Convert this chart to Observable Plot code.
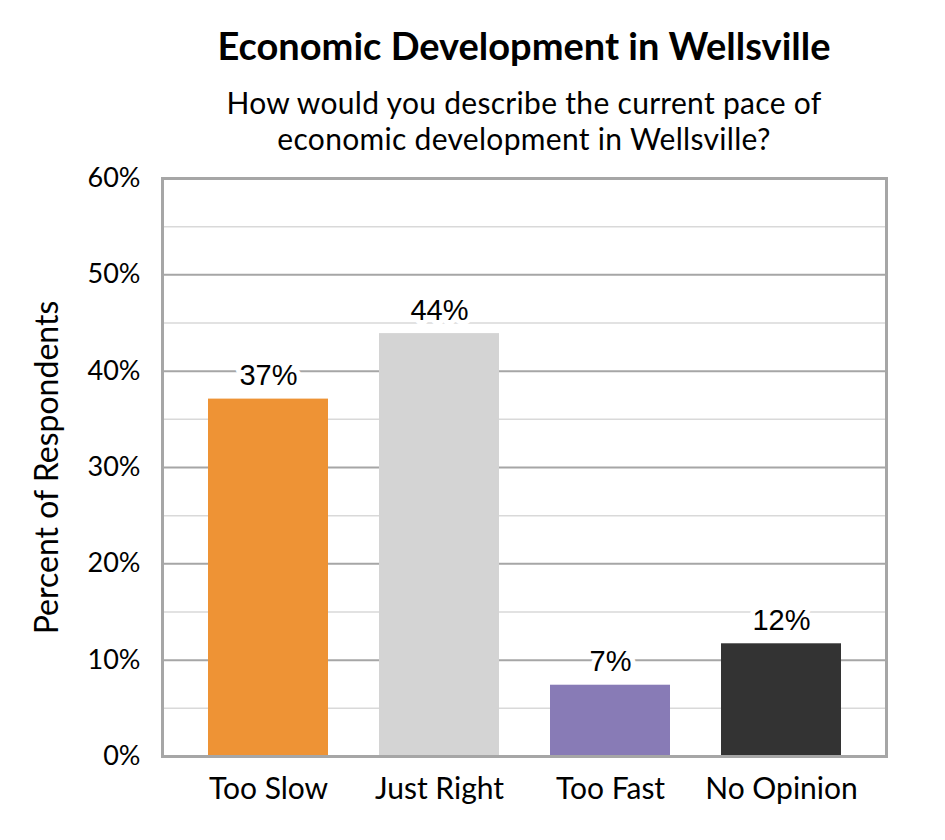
<!DOCTYPE html>
<html>
<head>
<meta charset="utf-8">
<script src="https://cdn.jsdelivr.net/npm/d3@7"></script>
<script src="https://cdn.jsdelivr.net/npm/@observablehq/plot@0.6"></script>
<style>
  body { margin: 0; background: #fff; }
  #wrap { position: relative; width: 945px; height: 840px; overflow: hidden; }
  .title { position: absolute; left: 0; width: 1048px; text-align: center; font-family: Lato, sans-serif; color: #000; white-space: nowrap; }
  #t1 { top: 25px; font-size: 38px; line-height: 40px; font-weight: bold; }
  .sub { font-size: 30px; line-height: 30px; letter-spacing: 0.3px; }
  #t2 { top: 87px; }
  #t3 { top: 123px; }
  #chart { position: absolute; left: 0; top: 160px; }
</style>
</head>
<body>
<div id="wrap">
  <div class="title" id="t1">Economic Development in Wellsville</div>
  <div class="title sub" id="t2">How would you describe the current pace of</div>
  <div class="title sub" id="t3">economic development in Wellsville?</div>
  <div id="chart"></div>
</div>
<script>
const categories = ["Too Slow", "Just Right", "Too Fast", "No Opinion"];
const values = [37.1, 43.9, 7.4, 11.7];
const labels = ["37%", "44%", "7%", "12%"];
const colors = ["#ee9335", "#d4d4d4", "#887bb6", "#333333"];
const majorTicks = [0, 10, 20, 30, 40, 50, 60];
const minorTicks = [5, 15, 25, 35, 45, 55];

const data = categories.map((c, i) => ({cat: c, value: values[i], label: labels[i], color: colors[i]}));

const chart = Plot.plot({
  width: 945,
  height: 680,
  marginLeft: 162,
  marginRight: 59,
  marginTop: 18,
  marginBottom: 84,
  style: {fontFamily: "Lato, sans-serif", fontSize: "27px", color: "#000", background: "#fff"},
  x: {domain: categories, paddingInner: 0.3, paddingOuter: 0.255},
  y: {domain: [0, 60]},
  marks: [
    Plot.ruleY(minorTicks, {stroke: "#d9d9d9", strokeWidth: 1.5}),
    Plot.ruleY(majorTicks.slice(1, -1), {stroke: "#a6a6a6", strokeWidth: 2}),
    Plot.barY(data, {x: "cat", y: "value", fill: "color"}),
    Plot.text(data, {x: "cat", y: "value", text: "label", lineAnchor: "bottom", dy: -14,
      fontFamily: "Liberation Sans, Arial, sans-serif", fontSize: 29, fill: "#000",
      stroke: "white", strokeWidth: 10}),
    Plot.frame({stroke: "#a6a6a6", strokeWidth: 3}),
    Plot.axisY({ticks: majorTicks, tickFormat: d => d + "%", tickSize: 0, tickPadding: 22, label: null, fontSize: 27}),
    Plot.axisX({tickSize: 0, tickPadding: 21, label: null, fontSize: 30}),
    Plot.text(["Percent of Respondents"], {frameAnchor: "left", dx: -115, rotate: -90,
      textAnchor: "middle", lineAnchor: "middle", fontSize: 32, fill: "#000"})
  ]
});
document.getElementById("chart").appendChild(chart);
</script>
</body>
</html>
